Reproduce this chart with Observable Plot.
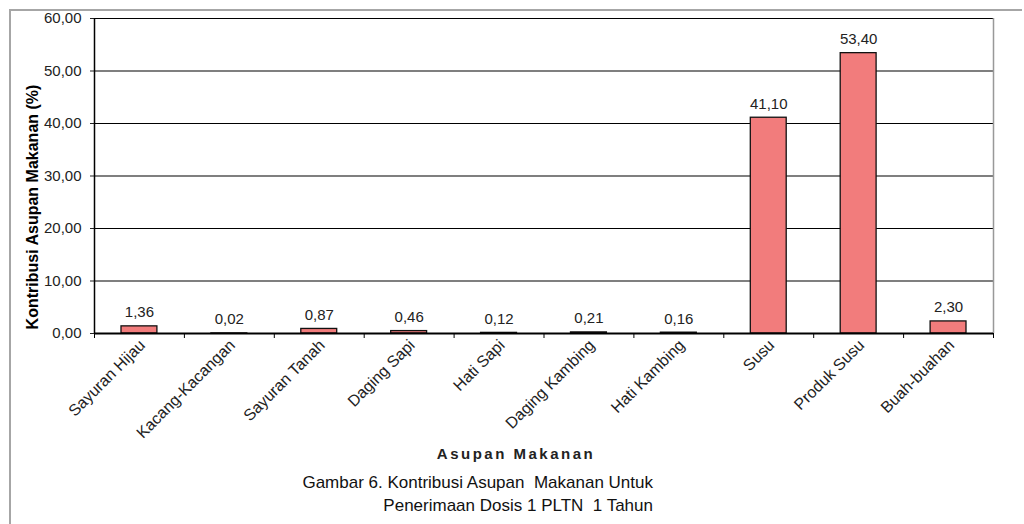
<!DOCTYPE html>
<html><head><meta charset="utf-8">
<script src="https://cdn.jsdelivr.net/npm/d3@7"></script>
<script src="https://cdn.jsdelivr.net/npm/@observablehq/plot@0.6"></script>
<style>
body{margin:0;background:#fff;}
#wrap{position:relative;width:1024px;height:524px;overflow:hidden;font-family:"Liberation Sans",Arial,sans-serif;background:#fff;}
#frame{position:absolute;left:9px;top:9px;width:1011px;height:520px;border-left:2px solid #a6a6a6;border-top:2px solid #a6a6a6;}
#chart{position:absolute;left:0;top:0;}
#caption{position:absolute;left:0;top:471px;width:653px;text-align:right;font-size:17px;line-height:23px;color:#111;}
</style></head>
<body><div id="wrap"><div id="frame"></div><div id="chart"></div><div id="caption">Gambar 6. Kontribusi Asupan&nbsp; Makanan Untuk<br>Penerimaan Dosis 1 PLTN&nbsp; 1 Tahun</div></div>
<script>
const categories = ["Sayuran Hijau","Kacang-Kacangan","Sayuran Tanah","Daging Sapi","Hati Sapi","Daging Kambing","Hati Kambing","Susu","Produk Susu","Buah-buahan"];
const values = [1.36,0.02,0.87,0.46,0.12,0.21,0.16,41.10,53.40,2.30];
const yTicks = [0,10,20,30,40,50,60];
const yTitle = "Kontribusi Asupan Makanan (%)";
const xTitle = "Asupan Makanan";

const data = categories.map((c,i)=>({category:c, index:i, value:values[i]}));
const fmt = v => v.toFixed(2).replace(".", ",");
const font = "'Liberation Sans', Arial, sans-serif";

const plot = Plot.plot({
  width:1024, height:470,
  marginLeft:94, marginRight:31, marginTop:18, marginBottom:137,
  style:{fontFamily:font, fontSize:"15px", color:"#222", background:"transparent", overflow:"visible"},
  x:{type:"linear", domain:[0, categories.length]},
  y:{domain:[0,60]},
  marks:[
    Plot.ruleY(yTicks, {stroke:"#000", strokeWidth:1.2}),
    Plot.ruleX([categories.length], {stroke:"#999", strokeWidth:1.5}),
    Plot.rect(data, {x1:"index", x2:d=>d.index+1, y1:d=>0, y2:"value", insetLeft:27, insetRight:27, fill:"#F27C7C", stroke:"#111", strokeWidth:1.3}),
    Plot.text(data, {x:d=>d.index+0.5, y:"value", text:d=>fmt(d.value), lineAnchor:"bottom", dy:-9, fill:"#222", fontSize:15}),
    Plot.axisY({ticks:yTicks, tickFormat:fmt, tickSize:4, tickPadding:9, label:null, fontSize:15}),
    Plot.ruleX([0], {stroke:"#000", strokeWidth:1.5}),
    Plot.ruleY([0], {stroke:"#000", strokeWidth:2}),
    Plot.axisX({ticks:d3.range(categories.length+1), tickSize:5, tickFormat:()=>"", label:null, stroke:"#000"}),
    Plot.axisX({ticks:categories.map((c,i)=>i+0.5), tickFormat:v=>categories[Math.floor(v)], tickSize:0, tickRotate:-45, tickPadding:9, dx:3, label:null, fontSize:16}),
    Plot.text([yTitle], {frameAnchor:"left", textAnchor:"middle", rotate:-90, dx:-62, dy:31, fontWeight:"bold", fontSize:16, fill:"#000"}),
    Plot.text([xTitle], {frameAnchor:"bottom", textAnchor:"middle", dx:-28, dy:125, fontWeight:"bold", fontSize:15, fill:"#222"})
  ]
});
d3.select(plot).selectAll("text").filter(function(){return this.textContent===xTitle;}).attr("letter-spacing", 2.5);
document.getElementById("chart").appendChild(plot);
</script>
</body></html>
